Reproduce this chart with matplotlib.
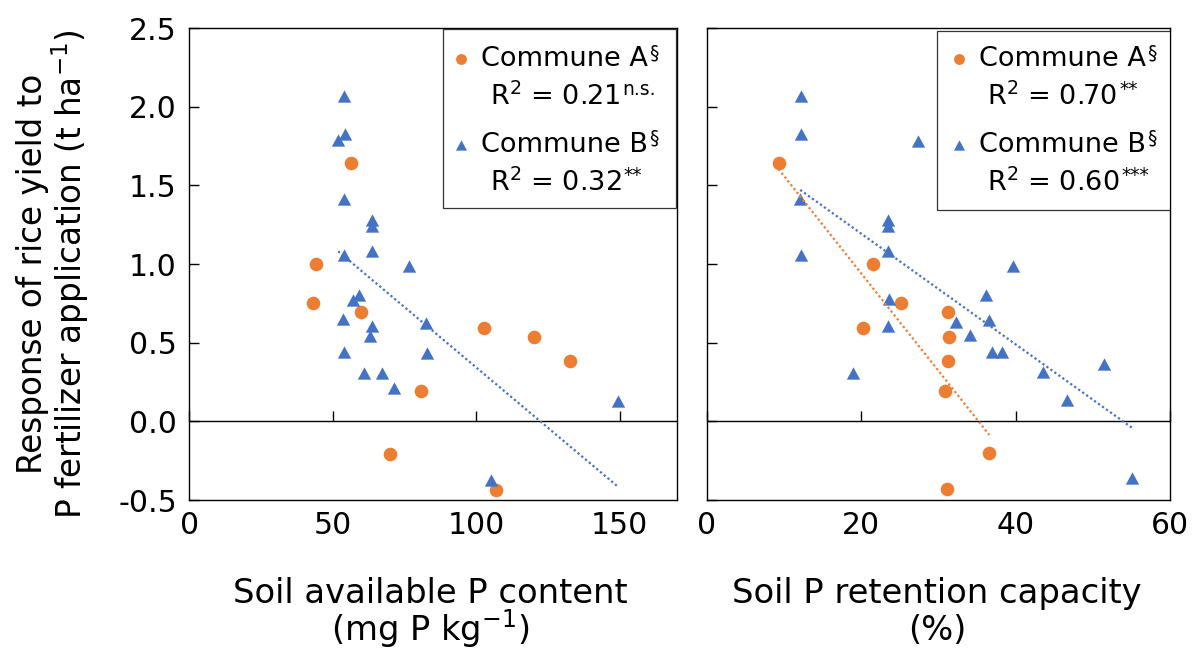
import numpy as np
import matplotlib
matplotlib.use("Agg")
import matplotlib.pyplot as plt
from matplotlib.patches import Rectangle
from matplotlib.ticker import FormatStrFormatter

plt.rcParams["font.family"] = ["DejaVu Sans"]
plt.rcParams["mathtext.fontset"] = "dejavusans"
plt.rcParams["axes.unicode_minus"] = False

ORANGE = "#ED7D31"
BLUE = "#4472C4"

# ── Données : panneau gauche (P disponible, mg P kg-1) ───────────────────────
avp_a_x = [56.4, 44.1, 43.1, 59.9, 102.7, 120.2, 132.7, 80.6, 70.0, 107.0]
avp_a_y = [1.64, 1.00, 0.75, 0.695, 0.593, 0.536, 0.386, 0.193, -0.21, -0.434]

avp_b_x = [54.0, 54.1, 51.9, 54.0, 63.7, 63.7, 63.7, 54.0, 76.6, 59.2, 57.2,
           53.7, 82.4, 63.7, 63.1, 54.0, 82.8, 60.8, 67.2, 71.3, 149.5, 105.1]
avp_b_y = [2.066, 1.826, 1.786, 1.415, 1.278, 1.24, 1.08, 1.055, 0.985, 0.80, 0.773,
           0.65, 0.625, 0.604, 0.544, 0.44, 0.434, 0.307, 0.307, 0.212, 0.131, -0.37]

# ── Données : panneau droit (capacité de rétention du P, %) ─────────────────
ret_a_x = [9.3, 21.6, 25.1, 31.2, 20.3, 31.4, 31.2, 30.8, 36.6, 31.1]
ret_a_y = [1.64, 1.00, 0.755, 0.696, 0.594, 0.534, 0.386, 0.193, -0.204, -0.43]

ret_b_x = [12.2, 12.2, 27.3, 12.1, 23.5, 23.5, 23.5, 12.2, 39.7, 36.2, 23.6,
           36.6, 32.3, 23.5, 34.1, 36.9, 38.3, 18.9, 43.5, 46.7, 51.4, 55.1]
ret_b_y = [2.068, 1.826, 1.78, 1.41, 1.277, 1.243, 1.08, 1.06, 0.988, 0.80, 0.78,
           0.647, 0.63, 0.609, 0.551, 0.44, 0.443, 0.307, 0.316, 0.138, 0.365, -0.363]

avp_xticks = [0, 50, 100, 150]
ret_xticks = [0, 20, 40, 60]
y_ticks = [-0.5, 0.0, 0.5, 1.0, 1.5, 2.0, 2.5]

avp_r2 = [("R$^2$ = 0.21", "n.s."), ("R$^2$ = 0.32", "**")]
ret_r2 = [("R$^2$ = 0.70", "**"), ("R$^2$ = 0.60", "***")]

TRI = [(-1.0, -0.925), (1.0, -0.925), (0.0, 0.925)]
FS_LEG = 19.5
FS_SUP = 13.5


def trend(ax, x, y, color):
    x = np.asarray(x)
    k, b = np.polyfit(x, y, 1)
    xs = np.array([x.min(), x.max()])
    ax.plot(xs, k * xs + b, color=color, lw=1.6, linestyle=(0, (1, 1.2)), zorder=4)


def sup_text(ax, x, y, main, sup, dy):
    t = ax.text(x, y, main, transform=ax.transAxes, fontsize=FS_LEG,
                va="center", ha="left", zorder=6)
    ax.annotate(sup, xy=(1, 0.5), xycoords=t, xytext=(1.0, dy),
                textcoords="offset points", fontsize=FS_SUP,
                va="baseline", ha="left", zorder=6)


def draw_panel(ax, ax_data, xlim, xticks, r2, box, show_ylabels):
    ax_x, ax_y, bx, by, trend_a = ax_data
    ax.plot(ax_x, ax_y, ls="", marker="o", ms=9.8, color=ORANGE, mew=0, zorder=3)
    ax.plot(bx, by, ls="", marker=TRI, ms=9.6, color=BLUE, mew=0, zorder=3)
    if trend_a:
        trend(ax, ax_x, ax_y, ORANGE)
    trend(ax, bx, by, BLUE)

    ax.axhline(0, color="black", lw=1.0, zorder=2)
    ax.plot(xticks, [0] * len(xticks), ls="", marker=2, ms=7.5, mew=1.0,
            color="black", clip_on=False, zorder=2)

    ax.set_xlim(*xlim)
    ax.set_ylim(-0.5, 2.5)
    ax.set_xticks(xticks)
    ax.set_yticks(y_ticks)
    ax.yaxis.set_major_formatter(FormatStrFormatter("%.1f"))
    ax.tick_params(axis="x", length=0, pad=8, labelsize=21.5)
    ax.tick_params(axis="y", direction="in", length=7.5, width=1.0, pad=9,
                   labelsize=21.5, labelleft=show_ylabels)
    for s in ax.spines.values():
        s.set_linewidth(1.0)

    # légende faite à la main
    x0, x1, y0, y1, mx, tx, rx = box
    ax.add_patch(Rectangle((x0, y0), x1 - x0, y1 - y0, transform=ax.transAxes,
                           facecolor="white", edgecolor="#333333", lw=0.9, zorder=5))
    rows = [0.934, 0.854, 0.752, 0.672]
    ax.plot([mx], [rows[0]], marker="o", ms=7.8, color=ORANGE, mew=0,
            transform=ax.transAxes, zorder=6, clip_on=False)
    ax.plot([mx], [rows[2]], marker=TRI, ms=8.0, color=BLUE, mew=0,
            transform=ax.transAxes, zorder=6, clip_on=False)
    sup_text(ax, tx, rows[0], "Commune A", "\u00a7", 0.8)
    sup_text(ax, rx, rows[1], r2[0][0], r2[0][1], 1.6)
    sup_text(ax, tx, rows[2], "Commune B", "\u00a7", 0.8)
    sup_text(ax, rx, rows[3], r2[1][0], r2[1][1], 1.6)


fig = plt.figure(figsize=(11.92, 6.48), dpi=100)
ax1 = fig.add_axes([189.3 / 1192, 148 / 648, 487.7 / 1192, 472 / 648])
ax2 = fig.add_axes([706.7 / 1192, 148 / 648, 463.3 / 1192, 472 / 648])

draw_panel(ax1, (avp_a_x, avp_a_y, avp_b_x, avp_b_y, False), (0, 170), avp_xticks,
           avp_r2, (0.5196, 0.9975, 0.618, 0.997, 0.557, 0.598, 0.617), True)
draw_panel(ax2, (ret_a_x, ret_a_y, ret_b_x, ret_b_y, True), (0, 60), ret_xticks,
           ret_r2, (0.497, 1.0, 0.614, 0.994, 0.5436, 0.588, 0.606), False)

# titres d'axes, ligne par ligne
fig.text(42 / 1192, 1 - 274 / 648, "Response of rice yield to",
         rotation=90, rotation_mode="anchor", ha="center", va="baseline", fontsize=23.5)
fig.text(82 / 1192, 1 - 274 / 648, "P fertilizer application (t ha$^{-1}$)",
         rotation=90, rotation_mode="anchor", ha="center", va="baseline", fontsize=23.5)
fig.text(430 / 1192, 1 - 603 / 648, "Soil available P content",
         ha="center", va="baseline", fontsize=24.3)
fig.text(430 / 1192, 1 - 640 / 648, "(mg P kg$^{-1}$)",
         ha="center", va="baseline", fontsize=24.3)
fig.text(937 / 1192, 1 - 603 / 648, "Soil P retention capacity",
         ha="center", va="baseline", fontsize=24.3)
fig.text(937 / 1192, 1 - 640 / 648, "(%)",
         ha="center", va="baseline", fontsize=24.3)

fig.savefig("out.png", dpi=100)
